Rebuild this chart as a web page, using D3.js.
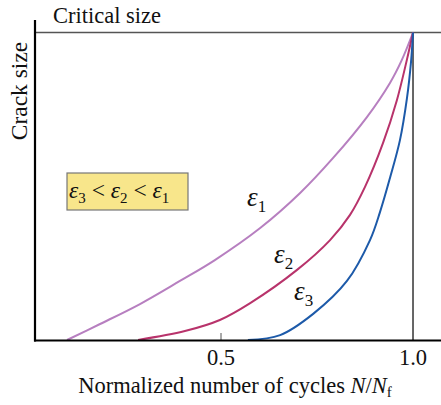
<!DOCTYPE html>
<html><head><meta charset="utf-8">
<script src="https://cdn.jsdelivr.net/npm/d3@7"></script>
<style>body{margin:0;background:#fff}svg{display:block}</style>
</head><body>
<script>
const eps1X = [0.099,0.185,0.289,0.393,0.484,0.602,0.706,0.792,0.880,0.940,0.971,1.0];
const eps1Y = [0,0.052,0.117,0.192,0.260,0.364,0.478,0.592,0.725,0.836,0.911,1.0];
const eps2X = [0.284,0.406,0.497,0.576,0.698,0.784,0.836,0.875,0.922,0.958,0.984,1.0];
const eps2Y = [0,0.029,0.065,0.120,0.228,0.325,0.407,0.498,0.641,0.780,0.911,1.0];
const eps3X = [0.570,0.654,0.740,0.828,0.888,0.914,0.940,0.966,0.984,0.995,1.0];
const eps3Y = [0,0.016,0.085,0.192,0.325,0.416,0.527,0.650,0.784,0.907,1.0];
const tickValues = [0.5, 1.0];
const tickLabels = ["0.5", "1.0"];
const seriesNames = ["1","2","3"];

const W=441,H=405;
const svg=d3.select("body").append("svg").attr("width",W).attr("height",H);
const x=d3.scaleLinear().domain([0.0156,1.0729]).range([35,441]);
const y=d3.scaleLinear().domain([0,1]).range([340,32.5]);
function T(sel){ return sel.append("text").style("font-family","'Liberation Serif'").attr("fill","#111"); }

svg.append("line").attr("x1",35).attr("x2",441).attr("y1",y(1)).attr("y2",y(1)).attr("stroke","#555").attr("stroke-width",1.3);
T(svg).attr("x",53).attr("y",23).attr("font-size",22.5).text("Critical size");
svg.append("line").attr("x1",x(1)).attr("x2",x(1)).attr("y1",y(1)).attr("y2",340).attr("stroke","#000").attr("stroke-width",1.2);
svg.append("line").attr("x1",x(0.5)).attr("x2",x(0.5)).attr("y1",333).attr("y2",340).attr("stroke","#555").attr("stroke-width",1);

const series=[
 {xs:eps1X,ys:eps1Y,c:"#b77fc0"},
 {xs:eps2X,ys:eps2Y,c:"#b8336b"},
 {xs:eps3X,ys:eps3Y,c:"#1d5aa9"}];
const line=d3.line().x(d=>x(d[0])).y(d=>y(d[1])).curve(d3.curveCatmullRom.alpha(0.5));
series.forEach(s=>{
  svg.append("path").attr("d",line(d3.zip(s.xs,s.ys))).attr("fill","none").attr("stroke",s.c).attr("stroke-width",2);
});

svg.append("line").attr("x1",35).attr("x2",35).attr("y1",20).attr("y2",341.5).attr("stroke","#000").attr("stroke-width",2.2);
svg.append("line").attr("x1",34).attr("x2",441).attr("y1",340.5).attr("y2",340.5).attr("stroke","#000").attr("stroke-width",2.2);

tickValues.forEach((v,i)=>{
  T(svg).attr("x",x(v)).attr("y",365).attr("text-anchor","middle").attr("font-size",22.5).text(tickLabels[i]);
});
const xl=T(svg).attr("x",235).attr("y",393).attr("text-anchor","middle").attr("font-size",22.5);
xl.append("tspan").text("Normalized number of cycles ");
xl.append("tspan").attr("font-style","italic").text("N");
xl.append("tspan").text("/");
xl.append("tspan").attr("font-style","italic").text("N");
xl.append("tspan").attr("font-size",15).attr("dy",4).text("f");

T(svg).attr("transform","translate(27,91) rotate(-90)").attr("text-anchor","middle").attr("font-size",23.5).text("Crack size");

const labelPos=[[247,206],[274,263],[294,300]];
seriesNames.forEach((n,i)=>{
  const t=T(svg).attr("x",labelPos[i][0]).attr("y",labelPos[i][1]).attr("font-size",27);
  t.append("tspan").attr("font-style","italic").text("ε");
  t.append("tspan").attr("font-size",17).attr("dy",6).text(n);
});

svg.append("rect").attr("x",67).attr("y",173).attr("width",121).attr("height",37).attr("fill","#f8e68b").attr("stroke","#777").attr("stroke-width",1.2);
const bt=T(svg).attr("x",69).attr("y",198).attr("font-size",23.5);
[["3"," < "],["2"," < "],["1",""]].forEach(([sub,after])=>{
  bt.append("tspan").attr("font-style","italic").text("ε");
  bt.append("tspan").attr("font-size",15).attr("dy",5).text(sub);
  bt.append("tspan").attr("dy",-5).text(after);
});
</script>
</body></html>
